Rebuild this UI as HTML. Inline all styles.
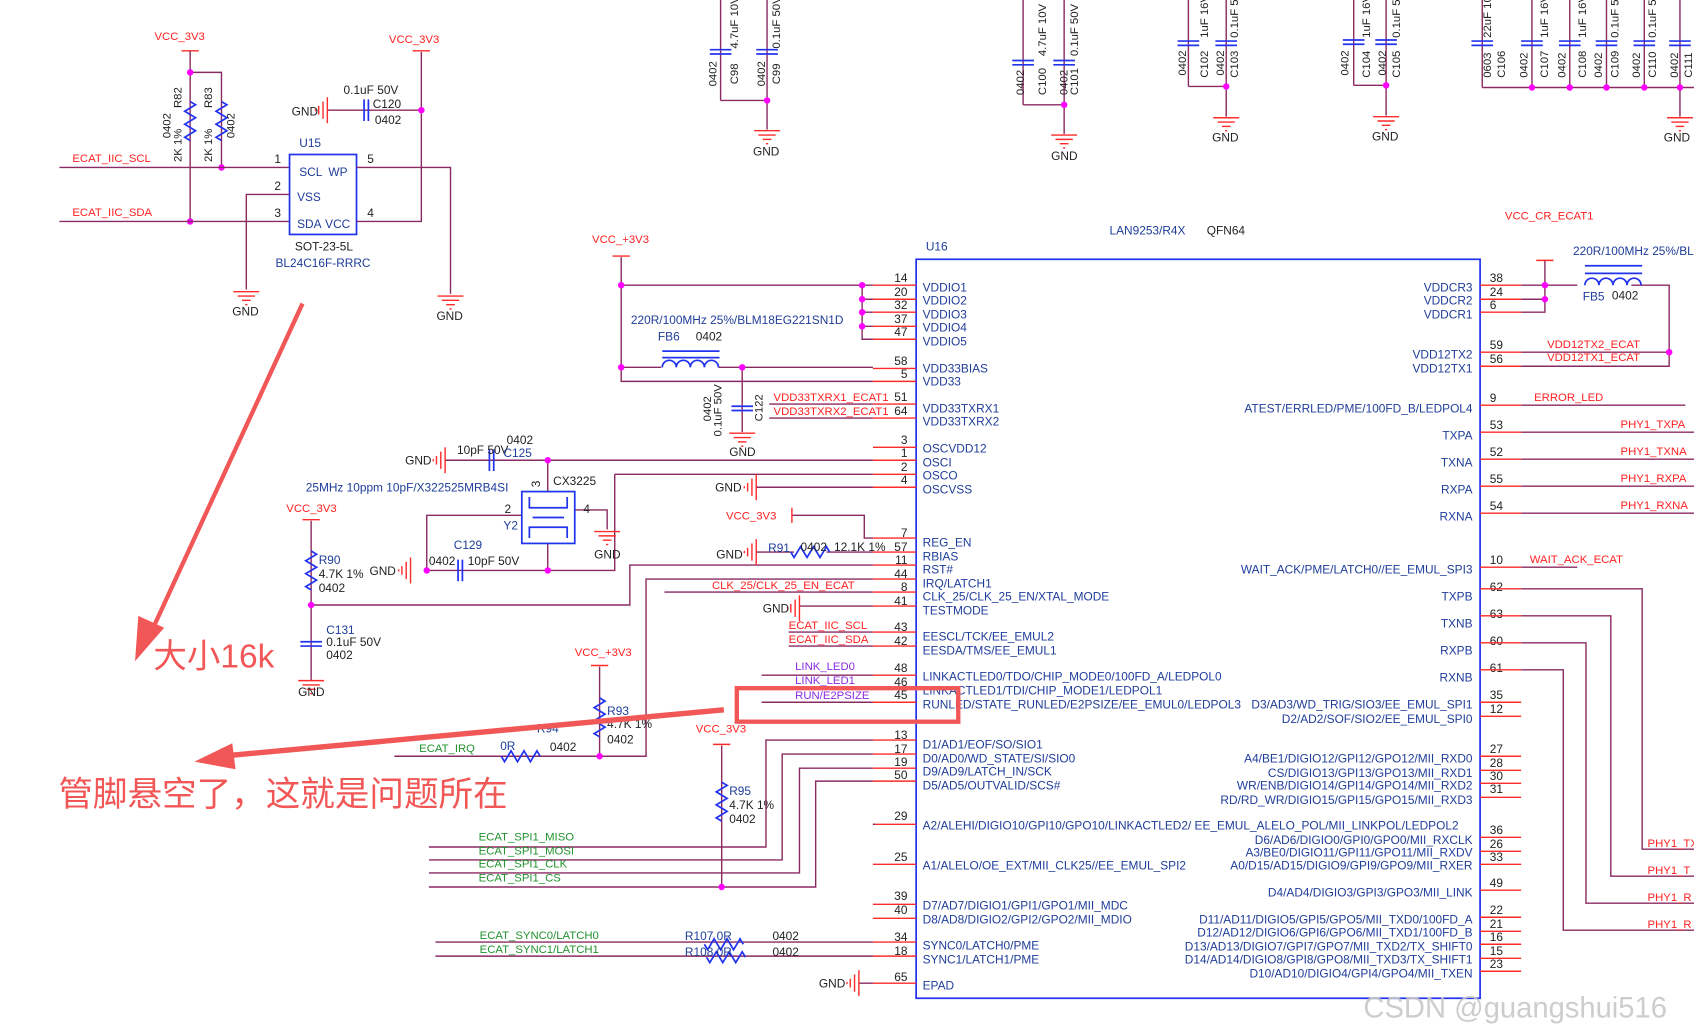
<!DOCTYPE html>
<html><head><meta charset="utf-8"><style>
html,body{margin:0;padding:0;background:#fff;}
svg{display:block}
text{font-family:"Liberation Sans","Noto Sans CJK SC",sans-serif;}
.w{stroke:#8a2a62;stroke-width:1.3;fill:none}
.r{stroke:#ff2a2a;stroke-width:1.3;fill:none}
.b{stroke:#2233ee;stroke-width:1.6;fill:none}
.bt{fill:#1f3d9a;font-size:11px}
.nt{fill:#222;font-size:11px}
.rt{fill:#ff2020;font-size:10.5px}
.gt{fill:#22922e;font-size:10.5px}
.pt{fill:#8a2be2;font-size:10.5px}
.kt{fill:#222;font-size:10.5px}
.d{fill:#ff00ff}
</style></head><body>
<svg width="1694" height="1035" viewBox="0 0 1568 958" preserveAspectRatio="none" xmlns="http://www.w3.org/2000/svg">
<defs>
<g id="gnd"><line class="r" x1="-12" y1="0" x2="12" y2="0"/><line class="r" x1="-8" y1="4" x2="8" y2="4"/><line class="r" x1="-4" y1="8" x2="4" y2="8"/><line class="r" x1="-1" y1="12" x2="1" y2="12"/></g>
<g id="gndl"><line class="r" x1="0" y1="-12" x2="0" y2="12"/><line class="r" x1="-4" y1="-8" x2="-4" y2="8"/><line class="r" x1="-8" y1="-4" x2="-8" y2="4"/><line class="r" x1="-11" y1="-1" x2="-11" y2="1"/></g>
<g id="capv"><line class="b" x1="-10" y1="-2" x2="10" y2="-2"/><line class="b" x1="-10" y1="2" x2="10" y2="2"/></g>
<g id="caph"><line class="b" x1="-2" y1="-10" x2="-2" y2="10"/><line class="b" x1="2" y1="-10" x2="2" y2="10"/></g>
<path id="resv" class="b" d="M0,-18 l5,3 -10,6 10,6 -10,6 10,6 -10,6 5,3"/>
<path id="resh" class="b" d="M-18,0 l3,5 6,-10 6,10 6,-10 6,10 6,-10 3,5"/>
</defs>

<!-- ================= U15 ================= -->
<text x="143" y="37" class="rt">VCC_3V3</text>
<line class="r" x1="168" y1="47" x2="184" y2="47"/>
<line class="w" x1="176" y1="47" x2="176" y2="205"/>
<polyline class="w" points="176,67 205,67 205,155"/>
<use href="#resv" x="176" y="112"/><use href="#resv" x="205" y="112"/>
<circle class="d" cx="176" cy="67" r="3"/><circle class="d" cx="205" cy="155" r="3"/><circle class="d" cx="176" cy="205" r="3"/>
<text class="kt" transform="translate(168,100) rotate(-90)">R82</text>
<text class="kt" transform="translate(196,100) rotate(-90)">R83</text>
<text class="kt" transform="translate(158,128) rotate(-90)">0402</text>
<text class="kt" transform="translate(168,150) rotate(-90)">2K 1%</text>
<text class="kt" transform="translate(196,150) rotate(-90)">2K 1%</text>
<text class="kt" transform="translate(217,128) rotate(-90)">0402</text>
<text x="67" y="150" class="rt">ECAT_IIC_SCL</text>
<text x="67" y="200" class="rt">ECAT_IIC_SDA</text>
<line class="w" x1="55" y1="155" x2="268" y2="155"/>
<line class="w" x1="55" y1="205" x2="268" y2="205"/>
<rect x="268" y="143" width="62" height="74" class="b"/>
<text x="277" y="163" class="bt">SCL</text><text x="304" y="163" class="bt">WP</text>
<text x="275" y="186" class="bt">VSS</text>
<text x="275" y="211" class="bt">SDA</text><text x="301" y="211" class="bt">VCC</text>
<text x="277" y="136" class="bt">U15</text>
<text x="254" y="151" class="nt">1</text><text x="254" y="176" class="nt">2</text><text x="254" y="201" class="nt">3</text>
<text x="340" y="151" class="nt">5</text><text x="340" y="201" class="nt">4</text>
<polyline class="w" points="268,180 228,180 228,268"/>
<use href="#gnd" x="228" y="270"/><text x="215" y="292" class="nt">GND</text>
<polyline class="w" points="330,155 417,155 417,272"/>
<use href="#gnd" x="417" y="274"/><text x="404" y="296" class="nt">GND</text>
<polyline class="w" points="330,205 390,205 390,48"/>
<line class="r" x1="382" y1="47" x2="398" y2="47"/>
<text x="360" y="40" class="rt">VCC_3V3</text>
<line class="w" x1="303" y1="102" x2="390" y2="102"/><circle class="d" cx="390" cy="102" r="3"/>
<use href="#caph" x="339" y="102"/><use href="#gndl" x="303" y="102"/>
<text x="270" y="107" class="nt">GND</text>
<text x="318" y="87" class="nt">0.1uF 50V</text><text x="345" y="100" class="nt">C120</text><text x="347" y="115" class="nt">0402</text>
<text x="273" y="232" class="nt">SOT-23-5L</text>
<text x="255" y="247" class="bt">BL24C16F-RRRC</text>

<!-- ================= top caps ================= -->
<g>
<line class="w" x1="667" y1="0" x2="667" y2="93"/><line class="w" x1="710" y1="0" x2="710" y2="120"/><line class="w" x1="667" y1="93" x2="710" y2="93"/>
<use href="#capv" x="667" y="48"/><use href="#capv" x="710" y="48"/><circle class="d" cx="710" cy="93" r="3"/>
<use href="#gnd" x="710" y="121"/><text x="697" y="144" class="nt">GND</text>
<text class="kt" transform="translate(663,80) rotate(-90)">0402</text><text class="kt" transform="translate(683,78) rotate(-90)">C98</text><text class="kt" transform="translate(683,45) rotate(-90)">4.7uF 10V</text>
<text class="kt" transform="translate(708,80) rotate(-90)">0402</text><text class="kt" transform="translate(722,78) rotate(-90)">C99</text><text class="kt" transform="translate(722,45) rotate(-90)">0.1uF 50V</text>

<line class="w" x1="947" y1="0" x2="947" y2="97"/><line class="w" x1="985" y1="0" x2="985" y2="124"/><line class="w" x1="947" y1="97" x2="985" y2="97"/>
<use href="#capv" x="947" y="58"/><use href="#capv" x="985" y="58"/><circle class="d" cx="985" cy="97" r="3"/>
<use href="#gnd" x="985" y="125"/><text x="973" y="148" class="nt">GND</text>
<text class="kt" transform="translate(948,88) rotate(-90)">0402</text><text class="kt" transform="translate(968,88) rotate(-90)">C100</text><text class="kt" transform="translate(968,52) rotate(-90)">4.7uF 10V</text>
<text class="kt" transform="translate(988,88) rotate(-90)">0402</text><text class="kt" transform="translate(998,88) rotate(-90)">C101</text><text class="kt" transform="translate(998,52) rotate(-90)">0.1uF 50V</text>

<line class="w" x1="1100" y1="0" x2="1100" y2="80"/><line class="w" x1="1135" y1="0" x2="1135" y2="108"/><line class="w" x1="1100" y1="80" x2="1135" y2="80"/>
<use href="#capv" x="1100" y="40"/><use href="#capv" x="1135" y="40"/><circle class="d" cx="1135" cy="80" r="3"/>
<use href="#gnd" x="1135" y="109"/><text x="1122" y="131" class="nt">GND</text>
<text class="kt" transform="translate(1098,70) rotate(-90)">0402</text><text class="kt" transform="translate(1118,72) rotate(-90)">C102</text><text class="kt" transform="translate(1118,35) rotate(-90)">1uF 16V</text>
<text class="kt" transform="translate(1133,70) rotate(-90)">0402</text><text class="kt" transform="translate(1146,72) rotate(-90)">C103</text><text class="kt" transform="translate(1146,35) rotate(-90)">0.1uF 50V</text>

<line class="w" x1="1253" y1="0" x2="1253" y2="79"/><line class="w" x1="1283" y1="0" x2="1283" y2="107"/><line class="w" x1="1253" y1="79" x2="1283" y2="79"/>
<use href="#capv" x="1253" y="39"/><use href="#capv" x="1283" y="39"/><circle class="d" cx="1283" cy="79" r="3"/>
<use href="#gnd" x="1283" y="108"/><text x="1270" y="130" class="nt">GND</text>
<text class="kt" transform="translate(1248,70) rotate(-90)">0402</text><text class="kt" transform="translate(1268,72) rotate(-90)">C104</text><text class="kt" transform="translate(1268,35) rotate(-90)">1uF 16V</text>
<text class="kt" transform="translate(1283,70) rotate(-90)">0402</text><text class="kt" transform="translate(1296,72) rotate(-90)">C105</text><text class="kt" transform="translate(1296,35) rotate(-90)">0.1uF 50V</text>

<line class="w" x1="1372" y1="81" x2="1568" y2="81"/>
<line class="w" x1="1372" y1="0" x2="1372" y2="81"/><line class="w" x1="1418" y1="0" x2="1418" y2="81"/><line class="w" x1="1453" y1="0" x2="1453" y2="81"/><line class="w" x1="1487" y1="0" x2="1487" y2="81"/><line class="w" x1="1522" y1="0" x2="1522" y2="81"/><line class="w" x1="1555" y1="0" x2="1555" y2="108"/>
<use href="#capv" x="1372" y="40"/><use href="#capv" x="1418" y="40"/><use href="#capv" x="1453" y="40"/><use href="#capv" x="1487" y="40"/><use href="#capv" x="1522" y="40"/><use href="#capv" x="1555" y="40"/>
<circle class="d" cx="1418" cy="81" r="3"/><circle class="d" cx="1453" cy="81" r="3"/><circle class="d" cx="1487" cy="81" r="3"/><circle class="d" cx="1522" cy="81" r="3"/><circle class="d" cx="1555" cy="81" r="3"/>
<use href="#gnd" x="1555" y="109"/><text x="1540" y="131" class="nt">GND</text>
<text class="kt" transform="translate(1380,72) rotate(-90)">0603</text><text class="kt" transform="translate(1393,72) rotate(-90)">C106</text><text class="kt" transform="translate(1380,35) rotate(-90)">22uF 10V</text>
<text class="kt" transform="translate(1414,72) rotate(-90)">0402</text><text class="kt" transform="translate(1433,72) rotate(-90)">C107</text><text class="kt" transform="translate(1433,35) rotate(-90)">1uF 16V</text>
<text class="kt" transform="translate(1449,72) rotate(-90)">0402</text><text class="kt" transform="translate(1468,72) rotate(-90)">C108</text><text class="kt" transform="translate(1468,35) rotate(-90)">1uF 16V</text>
<text class="kt" transform="translate(1483,72) rotate(-90)">0402</text><text class="kt" transform="translate(1498,72) rotate(-90)">C109</text><text class="kt" transform="translate(1498,35) rotate(-90)">0.1uF 50V</text>
<text class="kt" transform="translate(1518,72) rotate(-90)">0402</text><text class="kt" transform="translate(1533,72) rotate(-90)">C110</text><text class="kt" transform="translate(1533,35) rotate(-90)">0.1uF 50V</text>
<text class="kt" transform="translate(1553,72) rotate(-90)">0402</text><text class="kt" transform="translate(1566,72) rotate(-90)">C111</text>
</g>

<!-- ================= U16 box ================= -->
<rect x="848" y="240" width="522" height="684" class="b"/>
<text x="857" y="232" class="bt">U16</text>
<text x="1027" y="217" class="bt">LAN9253/R4X</text><text x="1117" y="217" class="nt">QFN64</text>

<!-- left pins -->
<g class="nt" text-anchor="end">
<text x="840" y="261">14</text><text x="840" y="274">20</text><text x="840" y="286">32</text><text x="840" y="299">37</text><text x="840" y="311">47</text>
<text x="840" y="338">58</text><text x="840" y="350">5</text><text x="840" y="371">51</text><text x="840" y="384">64</text>
<text x="840" y="411">3</text><text x="840" y="423">1</text><text x="840" y="436">2</text><text x="840" y="448">4</text>
<text x="840" y="497">7</text><text x="840" y="510">57</text><text x="840" y="522">11</text><text x="840" y="535">44</text><text x="840" y="547">8</text><text x="840" y="560">41</text>
<text x="840" y="584">43</text><text x="840" y="597">42</text><text x="840" y="622">48</text><text x="840" y="635">46</text><text x="840" y="647">45</text>
<text x="840" y="684">13</text><text x="840" y="697">17</text><text x="840" y="709">19</text><text x="840" y="721">50</text>
<text x="840" y="759">29</text><text x="840" y="797">25</text><text x="840" y="833">39</text><text x="840" y="846">40</text>
<text x="840" y="871">34</text><text x="840" y="884">18</text><text x="840" y="908">65</text>
</g>
<g class="r">
<path d="M808,264H848M808,277H848M808,289H848M808,302H848M808,314H848M808,341H848M808,353H848M808,374H848M808,387H848M808,414H848M808,426H848M808,439H848M808,451H848M808,498H848M808,511H848M808,523H848M808,536H848M808,548H848M808,561H848M808,585H848M808,598H848M808,625H848M808,638H848M808,650H848M808,685H848M808,698H848M808,711H848M808,723H848M808,763H848M808,800H848M808,837H848M808,850H848M808,872H848M808,885H848M808,910H848"/>
</g>
<g class="bt">
<text x="854" y="270">VDDIO1</text><text x="854" y="282">VDDIO2</text><text x="854" y="295">VDDIO3</text><text x="854" y="307">VDDIO4</text><text x="854" y="320">VDDIO5</text>
<text x="854" y="345">VDD33BIAS</text><text x="854" y="357">VDD33</text>
<text x="854" y="382">VDD33TXRX1</text><text x="854" y="394">VDD33TXRX2</text>
<text x="854" y="419">OSCVDD12</text><text x="854" y="432">OSCI</text><text x="854" y="444">OSCO</text><text x="854" y="457">OSCVSS</text>
<text x="854" y="506">REG_EN</text><text x="854" y="519">RBIAS</text><text x="854" y="531">RST#</text><text x="854" y="544">IRQ/LATCH1</text><text x="854" y="556">CLK_25/CLK_25_EN/XTAL_MODE</text><text x="854" y="569">TESTMODE</text>
<text x="854" y="593">EESCL/TCK/EE_EMUL2</text><text x="854" y="606">EESDA/TMS/EE_EMUL1</text>
<text x="854" y="630">LINKACTLED0/TDO/CHIP_MODE0/100FD_A/LEDPOL0</text><text x="854" y="643">LINKACTLED1/TDI/CHIP_MODE1/LEDPOL1</text><text x="854" y="656">RUNLED/STATE_RUNLED/E2PSIZE/EE_EMUL0/LEDPOL3</text>
<text x="854" y="693">D1/AD1/EOF/SO/SIO1</text><text x="854" y="706">D0/AD0/WD_STATE/SI/SIO0</text><text x="854" y="718">D9/AD9/LATCH_IN/SCK</text><text x="854" y="731">D5/AD5/OUTVALID/SCS#</text>
<text x="854" y="768">A2/ALEHI/DIGIO10/GPI10/GPO10/LINKACTLED2/ EE_EMUL_ALELO_POL/MII_LINKPOL/LEDPOL2</text>
<text x="854" y="805">A1/ALELO/OE_EXT/MII_CLK25//EE_EMUL_SPI2</text>
<text x="854" y="842">D7/AD7/DIGIO1/GPI1/GPO1/MII_MDC</text><text x="854" y="855">D8/AD8/DIGIO2/GPI2/GPO2/MII_MDIO</text>
<text x="854" y="879">SYNC0/LATCH0/PME</text><text x="854" y="892">SYNC1/LATCH1/PME</text>
<text x="854" y="916">EPAD</text>
</g>

<!-- right pins -->
<g class="nt">
<text x="1379" y="261">38</text><text x="1379" y="274">24</text><text x="1379" y="286">6</text>
<text x="1379" y="323">59</text><text x="1379" y="336">56</text><text x="1379" y="372">9</text>
<text x="1379" y="397">53</text><text x="1379" y="422">52</text><text x="1379" y="447">55</text><text x="1379" y="472">54</text>
<text x="1379" y="522">10</text><text x="1379" y="547">62</text><text x="1379" y="572">63</text><text x="1379" y="597">60</text><text x="1379" y="622">61</text>
<text x="1379" y="647">35</text><text x="1379" y="660">12</text>
<text x="1379" y="697">27</text><text x="1379" y="710">28</text><text x="1379" y="722">30</text><text x="1379" y="734">31</text>
<text x="1379" y="772">36</text><text x="1379" y="785">26</text><text x="1379" y="797">33</text><text x="1379" y="821">49</text>
<text x="1379" y="846">22</text><text x="1379" y="859">21</text><text x="1379" y="871">16</text><text x="1379" y="884">15</text><text x="1379" y="896">23</text>
</g>
<g class="r">
<path d="M1370,264H1408M1370,277H1408M1370,289H1408M1370,326H1408M1370,339H1408M1370,375H1408M1370,400H1408M1370,425H1408M1370,450H1408M1370,475H1408M1370,525H1408M1370,545H1408M1370,570H1408M1370,595H1408M1370,620H1408M1370,650H1408M1370,663H1408M1370,700H1408M1370,713H1408M1370,725H1408M1370,738H1408M1370,775H1408M1370,788H1408M1370,800H1408M1370,824H1408M1370,849H1408M1370,862H1408M1370,874H1408M1370,887H1408M1370,899H1408"/>
</g>
<g class="bt" text-anchor="end">
<text x="1363" y="270">VDDCR3</text><text x="1363" y="282">VDDCR2</text><text x="1363" y="295">VDDCR1</text>
<text x="1363" y="332">VDD12TX2</text><text x="1363" y="345">VDD12TX1</text>
<text x="1363" y="382">ATEST/ERRLED/PME/100FD_B/LEDPOL4</text>
<text x="1363" y="407">TXPA</text><text x="1363" y="432">TXNA</text><text x="1363" y="457">RXPA</text><text x="1363" y="482">RXNA</text>
<text x="1363" y="531">WAIT_ACK/PME/LATCH0//EE_EMUL_SPI3</text>
<text x="1363" y="556">TXPB</text><text x="1363" y="581">TXNB</text><text x="1363" y="606">RXPB</text><text x="1363" y="631">RXNB</text>
<text x="1363" y="656">D3/AD3/WD_TRIG/SIO3/EE_EMUL_SPI1</text><text x="1363" y="669">D2/AD2/SOF/SIO2/EE_EMUL_SPI0</text>
<text x="1363" y="706">A4/BE1/DIGIO12/GPI12/GPO12/MII_RXD0</text><text x="1363" y="719">CS/DIGIO13/GPI13/GPO13/MII_RXD1</text><text x="1363" y="731">WR/ENB/DIGIO14/GPI14/GPO14/MII_RXD2</text><text x="1363" y="744">RD/RD_WR/DIGIO15/GPI15/GPO15/MII_RXD3</text>
<text x="1363" y="781">D6/AD6/DIGIO0/GPI0/GPO0/MII_RXCLK</text><text x="1363" y="793">A3/BE0/DIGIO11/GPI11/GPO11/MII_RXDV</text><text x="1363" y="805">A0/D15/AD15/DIGIO9/GPI9/GPO9/MII_RXER</text>
<text x="1363" y="830">D4/AD4/DIGIO3/GPI3/GPO3/MII_LINK</text>
<text x="1363" y="855">D11/AD11/DIGIO5/GPI5/GPO5/MII_TXD0/100FD_A</text><text x="1363" y="867">D12/AD12/DIGIO6/GPI6/GPO6/MII_TXD1/100FD_B</text><text x="1363" y="880">D13/AD13/DIGIO7/GPI7/GPO7/MII_TXD2/TX_SHIFT0</text><text x="1363" y="892">D14/AD14/DIGIO8/GPI8/GPO8/MII_TXD3/TX_SHIFT1</text><text x="1363" y="905">D10/AD10/DIGIO4/GPI4/GPO4/MII_TXEN</text>
</g>

<!-- right wiring -->
<g class="w">
<path d="M1408,264H1460M1510,264H1545V339H1408M1408,326H1545M1408,277H1430M1408,289H1430V241M1408,375H1560M1408,400H1568M1408,425H1568M1408,450H1568M1408,475H1568M1408,525H1460"/>
<path d="M1408,545H1520V786H1568M1408,570H1491V811H1568M1408,595H1468V836H1568M1408,620H1447V861H1568"/>
</g>
<line class="r" x1="1422" y1="241" x2="1438" y2="241"/>
<circle class="d" cx="1430" cy="264" r="3"/><circle class="d" cx="1430" cy="277" r="3"/><circle class="d" cx="1545" cy="326" r="3"/>
<text x="1393" y="203" class="rt">VCC_CR_ECAT1</text>
<text x="1456" y="236" class="bt">220R/100MHz 25%/BLM</text>
<line class="b" x1="1467" y1="246" x2="1520" y2="246"/><line class="b" x1="1467" y1="253" x2="1520" y2="253"/>
<path class="b" d="M1467,264a6.5,6.5 0 0 1 13,0a6.5,6.5 0 0 1 13,0a6.5,6.5 0 0 1 13,0a6.5,6.5 0 0 1 13,0"/>
<text x="1465" y="278" class="bt">FB5</text><text x="1492" y="277" class="nt">0402</text>
<text x="1432" y="322" class="rt">VDD12TX2_ECAT</text><text x="1432" y="334" class="rt">VDD12TX1_ECAT</text>
<text x="1420" y="371" class="rt">ERROR_LED</text>
<text x="1500" y="396" class="rt">PHY1_TXPA</text><text x="1500" y="421" class="rt">PHY1_TXNA</text><text x="1500" y="446" class="rt">PHY1_RXPA</text><text x="1500" y="471" class="rt">PHY1_RXNA</text>
<text x="1416" y="521" class="rt">WAIT_ACK_ECAT</text>
<text x="1525" y="784" class="rt">PHY1_TX</text><text x="1525" y="809" class="rt">PHY1_T</text><text x="1525" y="834" class="rt">PHY1_R</text><text x="1525" y="859" class="rt">PHY1_R</text>

<!-- left wiring -->
<g class="w">
<path d="M575,238V353H808M575,264H808M798,264V314H808M798,277H808M798,289H808M798,302H808"/>
<path d="M575,340H612M665,340H808M687,340V400M712,374H808M712,387H808"/>
<path d="M412,426H808M507,426V455M507,503V528H395V477H483M532,472H562V490M569,439H808V439M569,439V528H507M412,528H452"/>
<path d="M700,451H808M733,477H800V498H808M700,511H735M765,511H808"/>
<path d="M288,560H583V523H808M365,700H598V536H808M615,548H808M740,561H808M730,585H808M730,598H808M705,625H808M705,638H808M705,650H808"/>
<path d="M397,784H709V685H808M397,796H724V698H808M397,808H740V711H808M397,821H755V723H808M810,763H808"/>
<path d="M403,872H808M403,885H808M795,910H808M668,690V821M555,617V700"/>
<path d="M288,482V560M288,560V630"/>
</g>
<line class="r" x1="567" y1="237" x2="583" y2="237"/>
<text x="548" y="225" class="rt">VCC_+3V3</text>
<circle class="d" cx="575" cy="264" r="3"/><circle class="d" cx="575" cy="340" r="3"/><circle class="d" cx="687" cy="340" r="3"/>
<circle class="d" cx="798" cy="264" r="3"/><circle class="d" cx="798" cy="277" r="3"/><circle class="d" cx="798" cy="289" r="3"/><circle class="d" cx="798" cy="302" r="3"/>
<text x="584" y="300" class="bt">220R/100MHz 25%/BLM18EG221SN1D</text>
<text x="609" y="315" class="bt">FB6</text><text x="644" y="315" class="nt">0402</text>
<line class="b" x1="613" y1="325" x2="666" y2="325"/><line class="b" x1="613" y1="331" x2="666" y2="331"/>
<path class="b" d="M613,340a6.5,6.5 0 0 1 13,0a6.5,6.5 0 0 1 13,0a6.5,6.5 0 0 1 13,0a6.5,6.5 0 0 1 13,0"/>
<use href="#capv" x="687" y="378"/><use href="#gnd" x="687" y="401"/><text x="675" y="422" class="nt">GND</text>
<text class="kt" transform="translate(658,390) rotate(-90)">0402</text><text class="kt" transform="translate(668,404) rotate(-90)">0.1uF 50V</text><text class="kt" transform="translate(706,390) rotate(-90)">C122</text>
<text x="716" y="371" class="rt">VDD33TXRX1_ECAT1</text><text x="716" y="384" class="rt">VDD33TXRX2_ECAT1</text>

<!-- crystal -->
<use href="#gndl" x="412" y="426"/><text x="375" y="430" class="nt">GND</text>
<use href="#caph" x="455" y="426"/><circle class="d" cx="507" cy="426" r="3"/>
<text x="423" y="420" class="nt">10pF 50V</text><text x="469" y="411" class="nt">0402</text><text x="466" y="423" class="bt">C125</text>
<text x="283" y="455" class="bt">25MHz 10ppm 10pF/X322525MRB4SI</text>
<rect x="483" y="455" width="49" height="48" class="b"/>
<path class="b" d="M490,460V470H525V460M490,498V488H525V498M493,479H522"/>
<text x="496" y="447" class="nt" transform="rotate(-90 500 447)">3</text>
<text x="512" y="449" class="nt">CX3225</text>
<text x="467" y="475" class="nt">2</text><text x="466" y="490" class="bt">Y2</text><text x="540" y="475" class="nt">4</text>
<use href="#gnd" x="562" y="492"/><text x="550" y="517" class="nt">GND</text>
<use href="#gndl" x="380" y="528"/><text x="342" y="532" class="nt">GND</text>
<use href="#caph" x="426" y="528"/><circle class="d" cx="395" cy="528" r="3"/><circle class="d" cx="507" cy="528" r="3"/>
<text x="420" y="508" class="bt">C129</text><text x="397" y="523" class="nt">0402</text><text x="433" y="523" class="nt">10pF 50V</text>

<use href="#gndl" x="700" y="451"/><text x="662" y="455" class="nt">GND</text>
<text x="672" y="481" class="rt">VCC_3V3</text><line class="r" x1="733" y1="470" x2="733" y2="484"/>
<use href="#gndl" x="700" y="511"/><text x="663" y="517" class="nt">GND</text>
<use href="#resh" x="750" y="511"/>
<text x="711" y="511" class="bt">R91</text><text x="741" y="510" class="nt">0402</text><text x="772" y="510" class="nt">12.1K 1%</text>
<text x="659" y="545" class="rt">CLK_25/CLK_25_EN_ECAT</text>
<use href="#gndl" x="740" y="563"/><text x="706" y="567" class="nt">GND</text>
<text x="730" y="582" class="rt">ECAT_IIC_SCL</text><text x="730" y="595" class="rt">ECAT_IIC_SDA</text>
<text x="736" y="620" class="pt">LINK_LED0</text><text x="736" y="633" class="pt">LINK_LED1</text><text x="736" y="647" class="pt">RUN/E2PSIZE</text>

<!-- R90/C131 -->
<text x="265" y="474" class="rt">VCC_3V3</text><line class="r" x1="280" y1="481" x2="296" y2="481"/>
<use href="#resv" x="288" y="528"/><circle class="d" cx="288" cy="560" r="3"/>
<text x="295" y="522" class="bt">R90</text><text x="295" y="535" class="nt">4.7K 1%</text><text x="295" y="548" class="nt">0402</text>
<use href="#capv" x="288" y="596"/><use href="#gnd" x="288" y="630"/><text x="276" y="644" class="nt">GND</text>
<text x="302" y="587" class="bt">C131</text><text x="302" y="598" class="nt">0.1uF 50V</text><text x="302" y="610" class="nt">0402</text>

<!-- R93 / IRQ -->
<text x="532" y="607" class="rt">VCC_+3V3</text><line class="r" x1="547" y1="616" x2="563" y2="616"/>
<use href="#resv" x="555" y="664"/><circle class="d" cx="555" cy="700" r="3"/>
<text x="562" y="662" class="bt">R93</text><text x="562" y="674" class="nt">4.7K 1%</text><text x="562" y="688" class="nt">0402</text>
<text x="388" y="696" class="gt">ECAT_IRQ</text><use href="#resh" x="482" y="700"/>
<text x="497" y="678" class="bt">R94</text><text x="463" y="694" class="bt">0R</text><text x="509" y="695" class="nt">0402</text>

<!-- R95 / SPI -->
<text x="644" y="678" class="rt">VCC_3V3</text><line class="r" x1="660" y1="689" x2="676" y2="689"/>
<use href="#resv" x="668" y="742"/><circle class="d" cx="668" cy="821" r="3"/>
<text x="675" y="736" class="bt">R95</text><text x="675" y="749" class="nt">4.7K 1%</text><text x="675" y="762" class="nt">0402</text>
<text x="443" y="778" class="gt">ECAT_SPI1_MISO</text><text x="443" y="791" class="gt">ECAT_SPI1_MOSI</text><text x="443" y="803" class="gt">ECAT_SPI1_CLK</text><text x="443" y="816" class="gt">ECAT_SPI1_CS</text>

<!-- sync -->
<text x="444" y="869" class="gt">ECAT_SYNC0/LATCH0</text><text x="444" y="882" class="gt">ECAT_SYNC1/LATCH1</text>
<use href="#resh" x="670" y="874"/><use href="#resh" x="672" y="886"/>
<text x="634" y="870" class="bt">R107 0R</text><text x="634" y="885" class="bt">R108 0R</text>
<text x="715" y="870" class="nt">0402</text><text x="715" y="885" class="nt">0402</text>
<use href="#gndl" x="795" y="910"/><text x="758" y="914" class="nt">GND</text>

<!-- annotations -->
<rect x="682" y="637" width="205" height="31" fill="none" stroke="#f25757" stroke-width="4"/>
<line x1="280" y1="281" x2="140" y2="585" stroke="#f25757" stroke-width="4"/>
<polygon points="125,612 128,570 152,581" fill="#f25757"/>
<text x="142" y="618" fill="#f25757" style="font-size:31px">大小16k</text>
<line x1="670" y1="657" x2="215" y2="699" stroke="#f25757" stroke-width="5"/>
<polygon points="180,705 215,688 218,712" fill="#f25757"/>
<text x="54" y="746" fill="#f25757" style="font-size:32px">管脚悬空了，这就是问题所在</text>
<text x="1262" y="942" fill="#c8c8c8" style="font-size:27px" opacity="0.9">CSDN @guangshui516</text>
</svg>
</body></html>
